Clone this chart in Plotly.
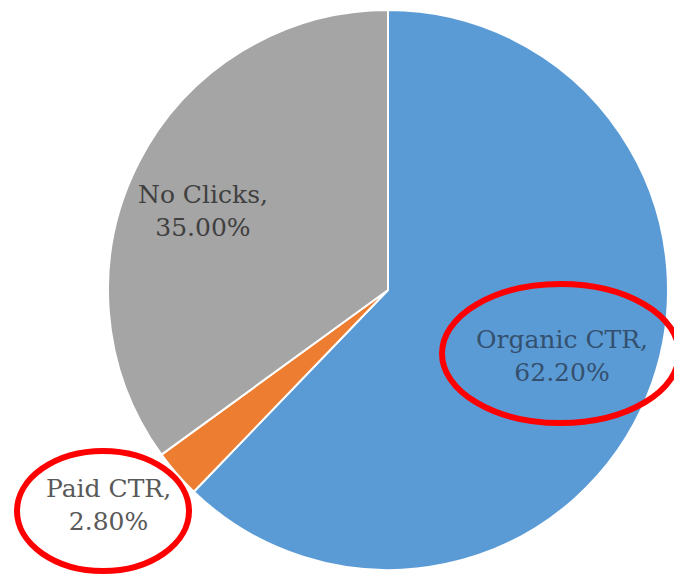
import plotly.graph_objects as go

labels = ["Organic CTR", "Paid CTR", "No Clicks"]
values = [62.20, 2.80, 35.00]
colors = ["#5B9BD5", "#ED7D31", "#A5A5A5"]

W, H = 682, 576
OFF = 8  # page body margin offset


def px_x(x):
    return (x - OFF) / W


def px_y(y):
    return 1 - (y - OFF) / H


fig = go.Figure(go.Pie(
    labels=labels, values=values, sort=False, direction="clockwise", rotation=0,
    marker=dict(colors=colors, line=dict(color="white", width=2)),
    textinfo="none", hoverinfo="label+percent", showlegend=False,
    domain=dict(x=[px_x(108), px_x(668)], y=[px_y(570), px_y(10)]),
))

# label positions (pixels) and colours
label_pos = {"Organic CTR": (562, 356), "Paid CTR": (108, 505), "No Clicks": (203, 211)}
label_col = {"Organic CTR": "#34506f", "Paid CTR": "#595959", "No Clicks": "#404040"}
for lab, val in zip(labels, values):
    px, py = label_pos[lab]
    fig.add_annotation(
        x=px_x(px), y=px_y(py), xref="paper", yref="paper", showarrow=False,
        xanchor="center", yanchor="middle",
        text=f"{lab},<br>{val:.2f}%", align="center",
        font=dict(family="DejaVu Serif", size=25, color=label_col[lab]),
    )

# red highlight ellipses
for x0, y0, x1, y1 in [(442, 284, 679, 423), (17, 451, 189, 571)]:
    fig.add_shape(type="circle", xref="paper", yref="paper",
                  x0=px_x(x0), x1=px_x(x1), y0=px_y(y1), y1=px_y(y0),
                  line=dict(color="#FF0000", width=6))

fig.update_layout(width=W, height=H, margin=dict(l=0, r=0, t=0, b=0),
                  paper_bgcolor="white", plot_bgcolor="white")
fig.write_html("out.html")
